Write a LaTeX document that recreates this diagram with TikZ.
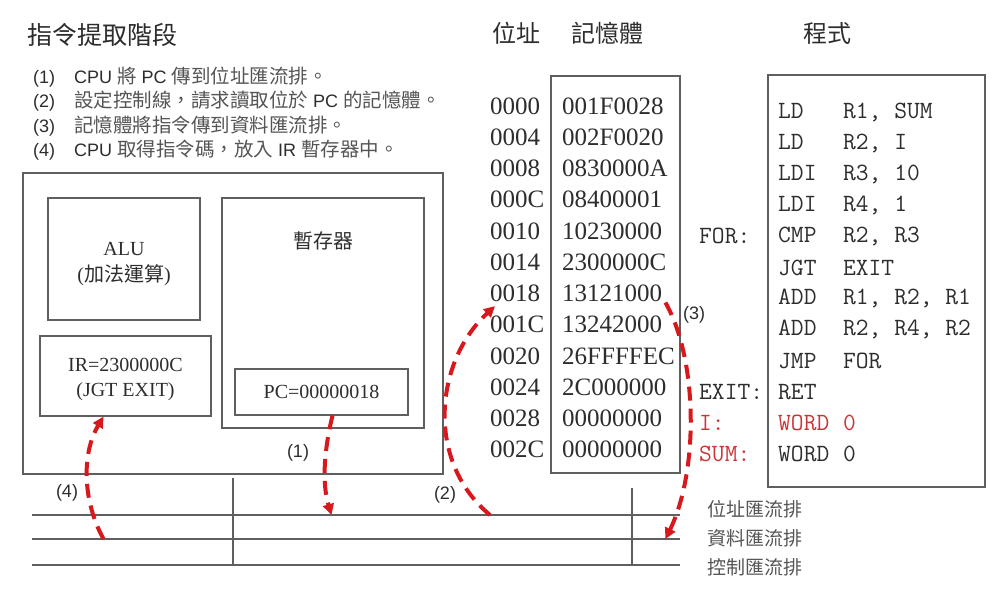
\documentclass[tikz,border=0pt]{standalone}
\usepackage{fontspec}
\setmainfont{Liberation Serif}
\newfontfamily\cjk{Noto Sans CJK TC}
\newfontfamily\arial{Liberation Sans}
\newfontfamily\progfont{Latin Modern Mono}
\usetikzlibrary{arrows.meta,positioning}
\definecolor{boxgray}{RGB}{95,95,95}
\definecolor{txtgray}{RGB}{45,45,45}
\definecolor{cjkgray}{RGB}{85,85,85}
\definecolor{busred}{RGB}{215,25,30}
\definecolor{lblred}{RGB}{200,55,55}
\newcommand\sz[1]{\fontsize{#1}{#1}\selectfont}
\newcommand\zh[1]{{\cjk\sz{19.5}\color{cjkgray}#1}}

\begin{document}
\begin{tikzpicture}[x=1pt,y=-1pt,
    box/.style={draw=boxgray,line width=1.1pt,inner sep=0pt},
    txt/.style={inner sep=0pt,text=txtgray},
    bus/.style={draw=boxgray,line width=1.1pt},
    flow/.style={busred,line width=4pt,dash pattern=on 14pt off 8pt,-{Triangle[length=11pt,width=11pt]}}]
\useasboundingbox[fill=white] (0,0) rectangle (1002,591);

\node[txt,anchor=west,font=\cjk\sz{25}] (title) at (27,35) {指令提取階段};
\node[txt,anchor=west,font=\arial\sz{18}] (s1) at (33,77) {\makebox[41pt][l]{(1)}CPU \zh{將} PC \zh{傳到位址匯流排。}};
\node[txt,anchor=west,font=\arial\sz{18}] (s2) at (33,101) {\makebox[41pt][l]{(2)}\zh{設定控制線，請求讀取位於} PC \zh{的記憶體。}};
\node[txt,anchor=west,font=\arial\sz{18}] (s3) at (33,126) {\makebox[41pt][l]{(3)}\zh{記憶體將指令傳到資料匯流排。}};
\node[txt,anchor=west,font=\arial\sz{18}] (s4) at (33,150) {\makebox[41pt][l]{(4)}CPU \zh{取得指令碼，放入} IR \zh{暫存器中。}};

\node[box,minimum width=420,minimum height=301] (cpu) at (233,323.5) {};
\node[box,minimum width=152,minimum height=122] (alu) at (124,259) {};
\node[txt,align=center,font=\sz{20}] (alulbl) at ([yshift=-5pt]alu.center) {ALU\\[6pt]({\cjk 加法運算})};
\node[box,minimum width=171,minimum height=80] (ir) at (125.5,376) {};
\node[txt,align=center,font=\sz{20}] (irlbl) at ([yshift=-3pt]ir.center) {IR=2300000C\\[5pt](JGT EXIT)};
\node[box,minimum width=202,minimum height=230] (regs) at (323,313) {};
\node[txt,below=34pt of regs.north,font=\cjk\sz{20}] (regname) {暫存器};
\node[box,minimum width=173,minimum height=46,text=txtgray,font=\sz{20}] (pc) at (321.5,392) {PC=00000018};

\node[txt,anchor=west,font=\cjk\sz{24}] (hadr) at (492,33) {位址};
\node[txt,anchor=west,font=\cjk\sz{24}] (hmem) at (571,33) {記憶體};
\node[txt,anchor=west,font=\cjk\sz{24}] (hprog) at (803,33) {程式};

\node[box,minimum width=129,minimum height=397] (mem) at (615.5,274.5) {};
\foreach \addr/\word [count=\i from 0] in {0000/001F0028,0004/002F0020,0008/0830000A,000C/08400001,0010/10230000,0014/2300000C,0018/13121000,001C/13242000,0020/26FFFFEC,0024/2C000000,0028/00000000,002C/00000000}{
    \node[txt,anchor=west,font=\sz{25}] (a\i) at (490,106+31.25*\i) {\addr};
    \node[txt,anchor=west,font=\sz{25}] (w\i) at (562,106+31.25*\i) {\word};
}

\node[box,minimum width=217,minimum height=412] (prog) at (876.5,281) {};
\foreach \op/\args/\cl [count=\i from 0] in {LD/{R1, SUM}/txtgray,LD/{R2, I}/txtgray,LDI/{R3, 10}/txtgray,LDI/{R4, 1}/txtgray,CMP/{R2, R3}/txtgray,JGT/EXIT/txtgray,ADD/{R1, R2, R1}/txtgray,ADD/{R2, R4, R2}/txtgray,JMP/FOR/txtgray,RET//txtgray,WORD/0/lblred,WORD/0/txtgray}{
    \node[txt,anchor=west,text=\cl,font=\progfont\sz{24.8}] (p\i) at (778,112+31.1*\i) {\makebox[65pt][l]{\op}\args};
}
\node[txt,anchor=west,font=\progfont\sz{24.8}] (lfor) at ([xshift=-79pt]p4.west) {FOR:};
\node[txt,anchor=west,font=\progfont\sz{24.8}] (lexit) at ([xshift=-79pt]p9.west) {EXIT:};
\node[txt,anchor=west,text=lblred,font=\progfont\sz{24.8}] (li) at ([xshift=-79pt]p10.west) {I:};
\node[txt,anchor=west,text=lblred,font=\progfont\sz{24.8}] (lsum) at ([xshift=-79pt]p11.west) {SUM:};

\coordinate (ab-w) at (32,515);
\coordinate (ab-e) at (680,515);
\coordinate (db-w) at (32,539);
\coordinate (db-e) at (680,539);
\coordinate (cb-w) at (32,565);
\coordinate (cb-e) at (680,565);
\draw[bus] (ab-w) -- (ab-e);
\draw[bus] (db-w) -- (db-e);
\draw[bus] (cb-w) -- (cb-e);
\draw[bus] ([yshift=-3pt]cpu.south) -- (cpu.south |- cb-w);
\draw[bus] ([xshift=16.5pt,yshift=-14pt]mem.south) -- ([xshift=16.5pt]mem.south |- cb-w);
\node[txt,anchor=west,font=\cjk\sz{19},text=cjkgray] (abus) at (707,509) {位址匯流排};
\node[txt,anchor=west,font=\cjk\sz{19},text=cjkgray] (dbus) at (707,538) {資料匯流排};
\node[txt,anchor=west,font=\cjk\sz{19},text=cjkgray] (cbus) at (707,567) {控制匯流排};

\draw[flow] ([xshift=11pt]pc.south) .. controls +(-8,33) and +(-10,-33) .. ([xshift=10pt]pc.south |- ab-w);
\draw[flow] (a6.west |- ab-w) .. controls +(-65,-54) and +(-60,55) .. ([xshift=5pt,yshift=-4pt]a6.south west);
\draw[flow] ([xshift=3pt,yshift=-9pt]w6.east) .. controls +(33,58) and +(33,-67) .. ([xshift=3pt]w6.east |- db-w);
\draw[flow] ([xshift=-22pt]ir.south |- db-w) .. controls +(-21,-38) and +(-22,37) .. ([xshift=-22pt]ir.south);
\node[txt,font=\arial\sz{18}] (n1) at (298,453) {(1)};
\node[txt,font=\arial\sz{18}] (n2) at (445,495) {(2)};
\node[txt,font=\arial\sz{18}] (n3) at (694,315) {(3)};
\node[txt,font=\arial\sz{18}] (n4) at (67,493) {(4)};
\end{tikzpicture}
\end{document}
